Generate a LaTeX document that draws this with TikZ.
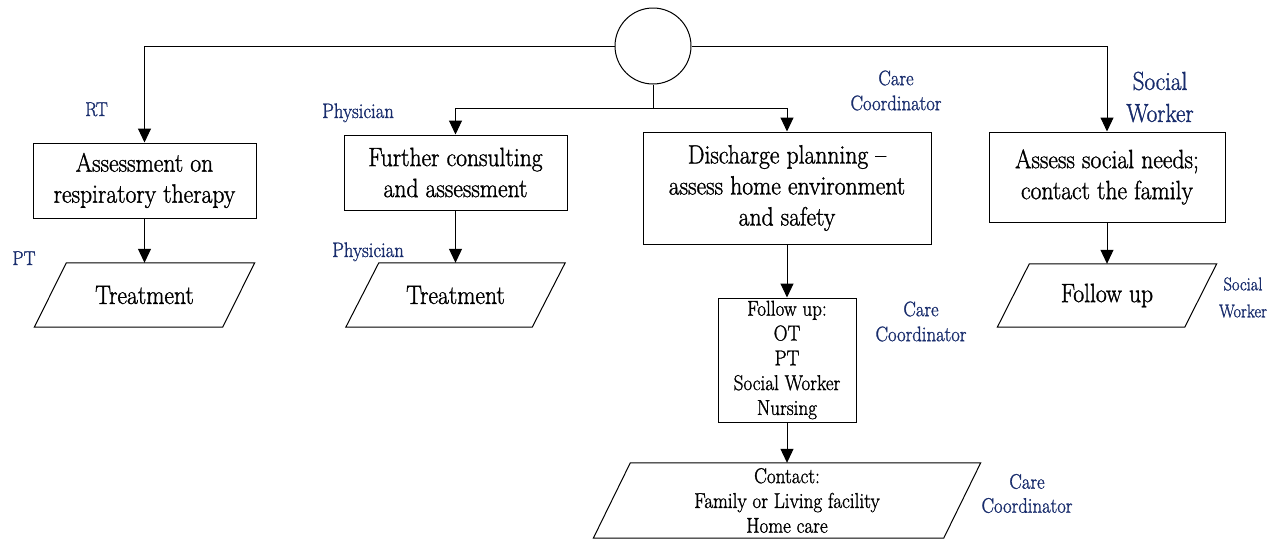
\documentclass[tikz,border=0pt]{standalone}
\usepackage{fontspec}
\setmainfont{Latin Modern Roman}[FakeStretch=0.89,FakeBold=1.2]
\usetikzlibrary{arrows.meta}
\definecolor{rolecol}{RGB}{24,44,108}

% parallelogram drawn round a (borderless) node
\newcommand\iopath[2]{%
  \draw[line width=1pt] ([xshift=#2]#1.north west) -- ([xshift=#2]#1.north east)
    -- ([xshift=-#2]#1.south east) -- ([xshift=-#2]#1.south west) -- cycle;}

\begin{document}
\begin{tikzpicture}[x=1pt,y=-1pt,
  bigtext/.style={font=\fontsize{26.5}{31}\selectfont},
  smalltext/.style={font=\fontsize{21.5}{24.8}\selectfont},
  procbox/.style={draw, line width=1pt, inner sep=0pt, align=center},
  iobox/.style={inner sep=0pt, align=center},
  role/.style={text=rolecol, inner sep=0pt, align=center},
  arr/.style={line width=1pt, -{Triangle[width=13pt,length=14pt]}},
  link/.style={line width=1pt}
]
\useasboundingbox (0,0) rectangle (1282,539);

% start point
\node[draw, circle, line width=1pt, minimum size=76pt, inner sep=0pt] (start) at (653,46) {};
\coordinate (split) at (653,108);

% process boxes
\node[procbox, bigtext, minimum width=223pt, minimum height=75pt] (rt) at (144.5,180.5)
  {Assessment on\\respiratory therapy};
\node[procbox, bigtext, minimum width=223pt, minimum height=75pt] (consult) at (455.5,172.5)
  {Further consulting\\and assessment};
\node[procbox, bigtext, minimum width=288pt, minimum height=112pt] (discharge) at (787,188)
  {Discharge planning –\\assess home environment\\and safety};
\node[procbox, bigtext, minimum width=236pt, minimum height=90pt] (social) at (1107,177)
  {Assess social needs;\\contact the family};
\node[procbox, smalltext, minimum width=138pt, minimum height=124pt] (follow) at (787,360)
  {Follow up:\\OT\\PT\\Social Worker\\Nursing};

% input/output shapes
\node[iobox, bigtext, minimum width=188pt, minimum height=64pt] (treatA) at (144.5,295) {Treatment};
\iopath{treatA}{16pt}
\node[iobox, bigtext, minimum width=186pt, minimum height=64pt] (treatB) at (455.5,295) {Treatment};
\iopath{treatB}{16.5pt}
\node[iobox, bigtext, minimum width=187pt, minimum height=63pt] (followB) at (1107,295.5) {Follow up};
\iopath{followB}{16pt}
\node[iobox, smalltext, minimum width=350pt, minimum height=75pt] (contact) at (787,500.5)
  {Contact:\\Family or Living facility\\Home care};
\iopath{contact}{18.5pt}

% connectors
\draw[arr] (start.west) -| (rt.north);
\draw[arr] (start.east) -| (social.north);
\draw[link] (start.south) -- (split);
\draw[arr] (split) -| (consult.north);
\draw[arr] (split) -| (discharge.north);
\draw[arr] (rt.south) -- (treatA.north);
\draw[arr] (consult.south) -- (treatB.north);
\draw[arr] (discharge.south) -- (follow.north);
\draw[arr] (follow.south) -- (contact.north);
\draw[arr] (social.south) -- (followB.north);

% role labels
\node[role, anchor=base, font=\fontsize{20}{24}\selectfont] (lRT) at (96.5,116) {RT};
\node[role, anchor=base, font=\fontsize{21}{25}\selectfont] (lPhys1) at (358,118) {Physician};
\node[role, font=\fontsize{21}{25}\selectfont] (lCare1) at (896,90.5) {Care\\Coordinator};
\node[role, font=\fontsize{26}{32}\selectfont] (lSW1) at (1160,97) {Social\\Worker};
\node[role, anchor=base, font=\fontsize{20}{24}\selectfont] (lPT) at (24,265) {PT};
\node[role, anchor=base, font=\fontsize{21}{25}\selectfont] (lPhys2) at (368,257) {Physician};
\node[role, font=\fontsize{21}{25}\selectfont] (lCare2) at (921,321.5) {Care\\Coordinator};
\node[role, font=\fontsize{18.5}{27}\selectfont] (lSW2) at (1243,297.5) {Social\\Worker};
\node[role, font=\fontsize{21}{24}\selectfont] (lCare3) at (1027,493.5) {Care\\Coordinator};
\end{tikzpicture}
\end{document}
